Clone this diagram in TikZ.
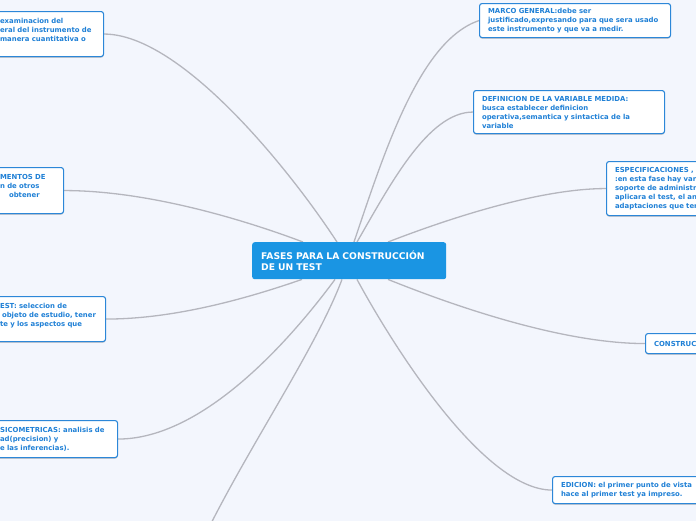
\documentclass[tikz,border=0pt]{standalone}
\usepackage{fontspec}
\setmainfont{DejaVu Sans}
\usetikzlibrary{shadows,backgrounds}
\definecolor{bg}{HTML}{F3F6FD}
\definecolor{leafblue}{HTML}{2C87D8}
\definecolor{leaftext}{HTML}{1F80D6}
\definecolor{rootblue}{HTML}{1A95E3}
\definecolor{linkgrey}{HTML}{B5B6BE}
\begin{document}
\begin{tikzpicture}[x=1pt,y=-1pt,
  leaf/.style={draw=leafblue, line width=1.1pt, fill=white, rounded corners=2.5pt,
    anchor=north west, inner xsep=8.5pt, inner ysep=0pt, align=left,
    font=\bfseries\fontsize{6.9}{9}\selectfont, text=leaftext,
    drop shadow={shadow xshift=0pt, shadow yshift=-1.2pt, opacity=0.18, fill=black}},
  root/.style={fill=rootblue, rounded corners=2.5pt, anchor=north west,
    inner xsep=9pt, inner ysep=0pt, align=left,
    font=\bfseries\fontsize{9.2}{11.5}\selectfont, text=white},
  link/.style={draw=linkgrey, line width=1.3pt}]
\useasboundingbox (0,0) rectangle (696,520);

% root
\node[root, minimum width=194pt, minimum height=37pt, text width=176pt] (root) at (252,242)
  {\mbox{FASES PARA LA CONSTRUCCIÓN}\\DE UN TEST};

% right side
\node[leaf, minimum width=191pt, minimum height=34pt, text width=174pt] (marco) at (479,3)
  {\mbox{MARCO GENERAL:debe ser}\\\mbox{justificado,expresando para que sera usado}\\\mbox{este instrumento y que va a medir.}};
\node[leaf, minimum width=191pt, minimum height=43pt, text width=174pt] (defi) at (473,90)
  {\mbox{DEFINICION DE LA VARIABLE MEDIDA:}\\\mbox{busca establecer definicion}\\\mbox{operativa,semantica y sintactica de la}\\variable};
\node[leaf, minimum width=120pt, minimum height=54pt, text width=103pt] (espec) at (606,161)
  {\mbox{ESPECIFICACIONES ,}\\\mbox{:en esta fase hay var}\\\mbox{soporte de administr}\\\mbox{aplicara el test, el an}\\\mbox{adaptaciones que ter}};
\node[leaf, minimum width=80pt, minimum height=20pt, text width=63pt] (constr) at (645,333)
  {CONSTRUC};
\node[leaf, minimum width=170pt, minimum height=27pt, text width=153pt] (edic) at (552,476)
  {\mbox{EDICION: el primer punto de vista}\\\mbox{hace al primer test ya impreso.}};

% left side
\node[leaf, minimum width=112pt, minimum height=45pt, text width=95pt] (exam) at (-9,11)
  {\mbox{examinacion del}\\\mbox{eral del instrumento de}\\\mbox{manera cuantitativa o}\\[-3pt]\strut};
\node[leaf, minimum width=72pt, minimum height=46pt, text width=55pt] (instr) at (-9,167)
  {\mbox{MENTOS DE}\\\mbox{n de otros}\\\mbox{\hspace*{9pt}obtener}\\[-3pt]\strut};
\node[leaf, minimum width=114pt, minimum height=45pt, text width=97pt] (test) at (-9,296)
  {\mbox{EST: seleccion de}\\\mbox{\hspace*{2pt}objeto de estudio, tener}\\\mbox{te y los aspectos que}\\[-3pt]\strut};
\node[leaf, minimum width=126pt, minimum height=37pt, text width=109pt] (psico) at (-9,420)
  {\mbox{SICOMETRICAS: analisis de}\\\mbox{ad(precision) y}\\\mbox{e las inferencias).}};

\coordinate (offp) at (185,580);

\begin{scope}[on background layer]
  \fill[bg] (-20,-20) rectangle (720,600);
  \draw[link] ([xshift=85pt]root.north west) .. controls +(-47,-72) and +(77,0) .. (exam.east);
  \draw[link] ([xshift=51pt]root.north west) .. controls +(-53,-20) and +(87,0) .. (instr.east);
  \draw[link] ([xshift=102pt]root.north west) .. controls +(31,-92) and +(-59,20) .. (marco.west);
  \draw[link] ([xshift=105pt]root.north west) .. controls +(33,-57) and +(-45,0) .. (defi.west);
  \draw[link] ([xshift=136pt]root.north west) .. controls +(62,-24) and +(-66,0) .. (espec.west);
  \draw[link] ([xshift=50pt]root.south west) .. controls +(-52,18) and +(70,0) .. (test.east);
  \draw[link] ([xshift=83pt]root.south west) .. controls +(-45,61) and +(85,0) .. (psico.east);
  \draw[link] ([xshift=90pt]root.south west) .. controls +(-30,80) and +(40,-100) .. (offp);
  \draw[link] ([xshift=105pt]root.south west) .. controls +(33,61) and +(-70,0) .. (edic.west);
  \draw[link] ([xshift=136pt]root.south west) .. controls +(72,29) and +(-80,0) .. (constr.west);
\end{scope}
\end{tikzpicture}
\end{document}
